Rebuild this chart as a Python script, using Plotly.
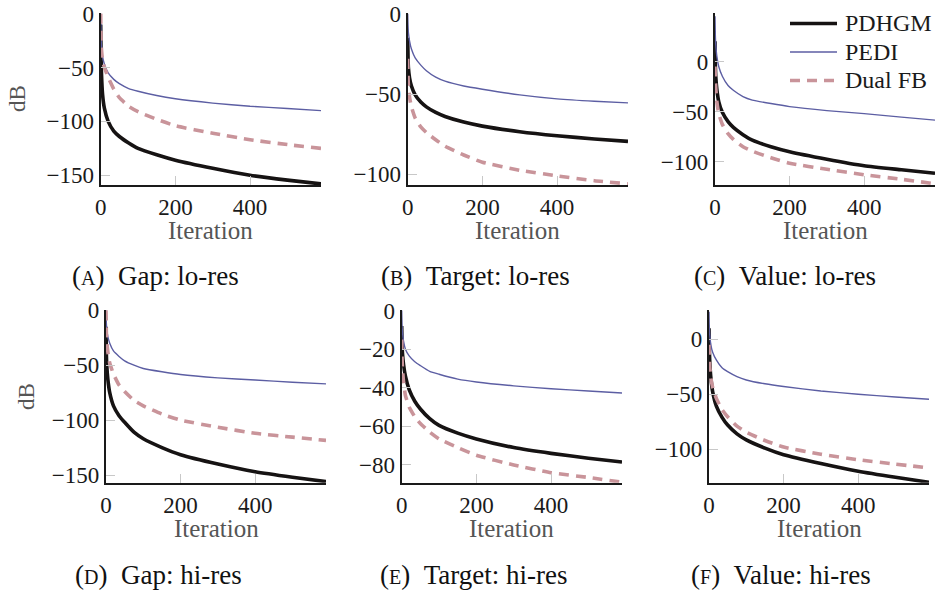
import plotly.graph_objects as go

ITER = [0, 1, 2, 5, 10, 20, 35, 50, 75, 100, 150, 200, 300, 400, 500, 590]

# Panel A: Gap lo-res
A_PDHGM = [-10, -40, -55, -75, -88, -100, -109, -114, -120, -125, -131, -136, -143.5, -150, -154.5, -158]
A_PEDI = [0, -20, -30, -40, -47, -55, -61, -65, -69.5, -72, -76, -79, -83, -86, -88, -90]
A_DFB = [0, -25, -33, -43, -50, -59, -70, -78, -86, -91, -98, -104, -111, -117, -121.5, -125]
# Panel B: Target lo-res
B_PDHGM = [-15, -28, -34, -40, -45, -50.5, -55, -58, -61.5, -64, -67.5, -70, -73.5, -76, -78, -79.5]
B_PEDI = [0, -8, -12, -17, -22, -27.5, -32, -35.5, -39.5, -42, -45, -47, -50.5, -53, -54.5, -55.5]
B_DFB = [-28, -40, -45, -52, -58, -65, -70.5, -74, -78.5, -82.5, -88, -92.5, -97.5, -101, -104, -106]
# Panel C: Value lo-res
C_PDHGM = [20, -5, -15, -28, -40, -51, -60, -66, -73, -78.5, -85, -90, -97.5, -104, -108, -111.5]
C_PEDI = [45, 25, 17, 5, -5, -15, -24, -29, -35, -38.5, -42, -45, -49, -52, -55.5, -58.5]
C_DFB = [-5, -18, -26, -40, -52, -63, -72, -78, -85, -89.5, -96, -101.5, -107.5, -113, -117.5, -122]
# Panel D: Gap hi-res
D_PDHGM = [-15, -40, -50, -63, -75, -87, -96, -102, -111, -117, -125, -131.5, -140, -147, -152, -156]
D_PEDI = [0, -12, -17, -24, -30, -37, -42, -46, -50, -53, -56, -58.5, -61.5, -63.5, -65.5, -67]
D_DFB = [0, -20, -28, -38, -48, -58, -68, -74, -82, -87, -94.5, -100, -106.5, -112, -115.5, -118.5]
# Panel E: Target hi-res
E_PDHGM = [-8, -18, -22, -28, -34, -41, -47, -51, -56, -59.5, -63.5, -66.5, -71, -74, -76.5, -78.5]
E_PEDI = [0, -8, -11, -16, -20, -23.5, -26.5, -28.5, -31.5, -33, -35.5, -37, -39, -40.5, -41.7, -42.7]
E_DFB = [-15, -25, -30, -37, -44, -50, -55, -58.5, -63, -66.5, -71, -75, -80, -84, -86.5, -89]
# Panel F: Value hi-res
F_PDHGM = [10, -10, -20, -35, -48, -61, -71, -78, -86, -91.5, -99, -105, -113, -120, -125.5, -130]
F_PEDI = [25, 10, 4, -5, -12, -19, -26, -29.5, -34, -37, -40.5, -43, -47, -50, -52.5, -54.5]
F_DFB = [-5, -18, -25, -35, -44, -54, -64, -70.5, -79, -84.5, -92, -98, -104.5, -109.5, -113.5, -117]

SERIES = ["PDHGM", "PEDI", "Dual FB"]
CAPTIONS = ["Gap: lo-res", "Target: lo-res", "Value: lo-res",
            "Gap: hi-res", "Target: hi-res", "Value: hi-res"]
LETTERS = ["A", "B", "C", "D", "E", "F"]
X_TICKS = [0, 200, 400]
Y_TICKS = [[0, -50, -100, -150], [0, -50, -100], [0, -50, -100],
           [0, -50, -100, -150], [0, -20, -40, -60, -80], [0, -50, -100]]
Y_RANGES = [[-159, 0.3], [-106.7, 0.3], [-123.2, 48],
            [-157, 0.3], [-89.2, 0.3], [-130.4, 26.6]]
X_RANGE = [0, 590]

PANELS = [
    (A_PDHGM, A_PEDI, A_DFB), (B_PDHGM, B_PEDI, B_DFB), (C_PDHGM, C_PEDI, C_DFB),
    (D_PDHGM, D_PEDI, D_DFB), (E_PDHGM, E_PEDI, E_DFB), (F_PDHGM, F_PEDI, F_DFB),
]

W, H = 935, 595
# axis boxes in pixels (left, right, top, bottom)
BOXES = [(100.7, 321, 13.3, 185), (407.7, 628, 13.3, 185), (715, 935, 13.3, 185),
         (106, 326, 310, 482.7), (401.7, 622, 310, 482.7), (709, 929, 310, 482.7)]
CAP_X = [155, 476, 785, 158, 474, 781]
CAP_Y = [276, 276, 276, 575, 575, 575]
LEG_Y = [23.5, 52, 80.5]

STYLES = [
    dict(color="#161313", width=3.6),
    dict(color="#5c5ea3", width=1.4),
    dict(color="#c9949a", width=3.6, dash="10px,7px"),
]

FONT = "Liberation Serif"

fig = go.Figure()
for i, data in enumerate(PANELS):
    xa = "x" if i == 0 else f"x{i+1}"
    ya = "y" if i == 0 else f"y{i+1}"
    for s, (name, vals) in enumerate(zip(SERIES, data)):
        fig.add_trace(go.Scatter(
            x=ITER, y=vals, mode="lines", name=name,
            line=dict(shape="spline", smoothing=0.5, **STYLES[s]),
            xaxis=xa, yaxis=ya, showlegend=False, hoverinfo="x+y+name"))

layout = dict(width=W, height=H, margin=dict(l=0, r=0, t=0, b=0, autoexpand=False),
              paper_bgcolor="white", plot_bgcolor="white", showlegend=False,
              font=dict(family=FONT, size=23, color="#1a1a1a"))
annotations = []
shapes = []
for i, (l, r, t, b) in enumerate(BOXES):
    key = "" if i == 0 else str(i + 1)
    common = dict(showgrid=False, zeroline=False, showline=True, linecolor="#1a1a1a",
                  linewidth=2.4, mirror=False, ticks="inside", ticklen=9, tickwidth=1,
                  tickcolor="#c8c8c8", automargin=False,
                  tickfont=dict(family=FONT, size=23, color="#1a1a1a"))
    layout["xaxis" + key] = dict(domain=[l / W, r / W], range=X_RANGE,
                                 anchor="y" + key, tickvals=X_TICKS, **common)
    layout["yaxis" + key] = dict(domain=[1 - b / H, 1 - t / H], range=Y_RANGES[i],
                                 anchor="x" + key, tickvals=Y_TICKS[i], **common)
    annotations.append(dict(text="Iteration", x=(l + r) / 2 / W, y=1 - (b + 46) / H,
                            xref="paper", yref="paper", showarrow=False,
                            font=dict(family=FONT, size=25, color="#555555"),
                            xanchor="center", yanchor="middle"))
    annotations.append(dict(
        text=f"(<span style='font-size:20px'>{LETTERS[i]}</span>)\u00a0\u00a0{CAPTIONS[i]}",
        x=CAP_X[i] / W, y=1 - CAP_Y[i] / H, xref="paper", yref="paper", showarrow=False,
        font=dict(family=FONT, size=27, color="#111111"), xanchor="center", yanchor="middle"))

for ylab_x, ylab_y in [(18, 99), (26, 397)]:
    annotations.append(dict(text="dB", x=ylab_x / W, y=1 - ylab_y / H, xref="paper",
                            yref="paper", showarrow=False, textangle=-90,
                            font=dict(family=FONT, size=23, color="#555555"),
                            xanchor="center", yanchor="middle"))

# legend (drawn in the top-right of panel C)
for s, name in enumerate(SERIES):
    st = STYLES[s]
    shapes.append(dict(type="line", xref="paper", yref="paper",
                       x0=790 / W, x1=837 / W, y0=1 - LEG_Y[s] / H, y1=1 - LEG_Y[s] / H,
                       line=dict(color=st["color"], width=st["width"], dash=st.get("dash", "solid"))))
    annotations.append(dict(text=name, x=843 / W, y=1 - LEG_Y[s] / H, xref="paper",
                            yref="paper", showarrow=False, xanchor="left", yanchor="middle",
                            font=dict(family=FONT, size=24, color="#1a1a1a")))

layout["annotations"] = annotations
layout["shapes"] = shapes
fig.update_layout(**layout)
fig.write_html("out.html", config={"displayModeBar": False},
               post_script="document.body.style.margin='0';")
